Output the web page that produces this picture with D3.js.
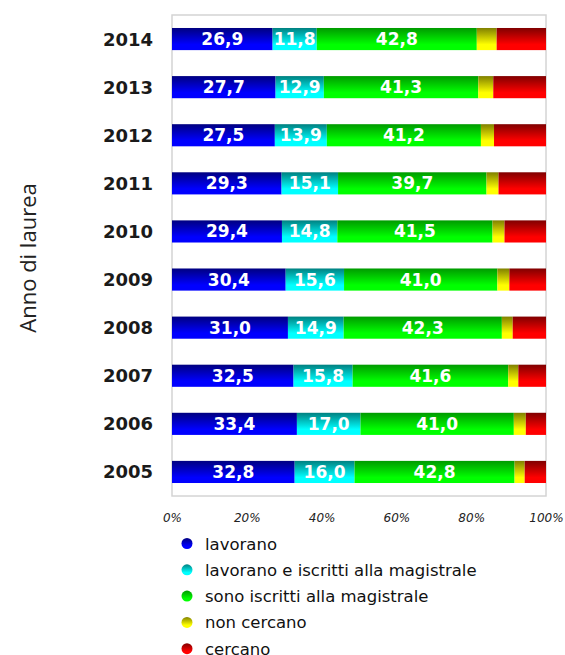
<!DOCTYPE html>
<html lang="it">
<head>
<meta charset="UTF-8">
<title>Anno di laurea</title>
<script src="https://cdn.jsdelivr.net/npm/d3@7"></script>
<style>
  body { margin: 0; background: #fff; }
  .yr { font-family: "DejaVu Sans", sans-serif; font-weight: bold; font-size: 18px; fill: #1a1a1a; }
  .val { font-family: "DejaVu Sans", sans-serif; font-weight: bold; font-size: 17px; fill: #fff; }
  .tick text { font-family: "DejaVu Sans", sans-serif; font-style: italic; font-size: 12px; fill: #222; }
  .leg { font-family: "DejaVu Sans", sans-serif; font-size: 16.5px; fill: #111; }
  .ytitle { font-family: "Open Sans", sans-serif; font-size: 22px; fill: #222; }
</style>
</head>
<body>
<svg id="chart" width="565" height="655"></svg>
<script>
// data
var years = ["2014","2013","2012","2011","2010","2009","2008","2007","2006","2005"];
var lavorano    = [26.9, 27.7, 27.5, 29.3, 29.4, 30.4, 31.0, 32.5, 33.4, 32.8];
var lavIscritti = [11.8, 12.9, 13.9, 15.1, 14.8, 15.6, 14.9, 15.8, 17.0, 16.0];
var iscritti    = [42.8, 41.3, 41.2, 39.7, 41.5, 41.0, 42.3, 41.6, 41.0, 42.8];
var nonCercano  = [5.3, 4.0, 3.5, 3.2, 3.2, 3.2, 2.9, 2.7, 3.2, 2.7];
var cercano     = [13.2, 14.1, 13.9, 12.7, 11.1, 9.8, 8.9, 7.4, 5.4, 5.7];
var seriesNames = ["lavorano", "lavorano e iscritti alla magistrale", "sono iscritti alla magistrale", "non cercano", "cercano"];
var tickLabels = ["0%","20%","40%","60%","80%","100%"];

var series = [lavorano, lavIscritti, iscritti, nonCercano, cercano];
var darkCol = ["#000080", "#008080", "#009a00", "#808000", "#800000"];
var brightCol = ["#0000ff", "#00ffff", "#00ff00", "#ffff00", "#ff0000"];

var svg = d3.select("#chart");
var plotL = 172, plotR = 546, plotT = 15, plotB = 496;

var x = d3.scaleLinear().domain([0, 100]).range([plotL, plotR]);
var y = d3.scaleBand().domain(years).range([plotT, plotB]).paddingInner(0.54).paddingOuter(0.27);

// gradients
var defs = svg.append("defs");
series.forEach(function (s, i) {
    var g = defs.append("linearGradient").attr("id", "g" + i)
        .attr("x1", 0).attr("y1", 0).attr("x2", 0).attr("y2", 1);
    g.append("stop").attr("offset", "0%").attr("stop-color", darkCol[i]);
    g.append("stop").attr("offset", "75%").attr("stop-color", brightCol[i]);
    g.append("stop").attr("offset", "100%").attr("stop-color", brightCol[i]);
});

// frame
svg.append("rect")
    .attr("x", plotL).attr("y", plotT)
    .attr("width", plotR - plotL).attr("height", plotB - plotT)
    .attr("fill", "none").attr("stroke", "#d4d4d4").attr("stroke-width", 1.5);

// stacked bars
var stackData = years.map(function (yr, j) {
    var o = { year: yr };
    series.forEach(function (s, i) { o["s" + i] = s[j]; });
    return o;
});
var stack = d3.stack().keys(series.map(function (s, i) { return "s" + i; }));
var layers = stack(stackData);

layers.forEach(function (layer, i) {
    svg.append("g").selectAll("rect").data(layer).enter().append("rect")
        .attr("x", function (d) { return x(d[0]); })
        .attr("y", function (d) { return y(d.data.year); })
        .attr("width", function (d) { return x(d[1]) - x(d[0]); })
        .attr("height", y.bandwidth())
        .attr("fill", "url(#g" + i + ")");

    if (i < 3) {
        svg.append("g").selectAll("text").data(layer).enter().append("text")
            .attr("class", "val")
            .attr("x", function (d) { return (x(d[0]) + x(d[1])) / 2; })
            .attr("y", function (d) { return y(d.data.year) + y.bandwidth() / 2 + 6; })
            .attr("text-anchor", "middle")
            .text(function (d) { return (d[1] - d[0]).toFixed(1).replace(".", ","); });
    }
});

// year labels
svg.append("g").selectAll("text").data(years).enter().append("text")
    .attr("class", "yr")
    .attr("x", 153)
    .attr("y", function (d) { return y(d) + y.bandwidth() / 2 + 6.5; })
    .attr("text-anchor", "end")
    .text(function (d) { return d; });

// x axis
var xAxis = d3.axisBottom(x).tickValues([0, 20, 40, 60, 80, 100])
    .tickSize(0).tickPadding(0)
    .tickFormat(function (d, i) { return tickLabels[i]; });
var ax = svg.append("g").attr("transform", "translate(0," + (plotB + 17) + ")").call(xAxis);
ax.select(".domain").remove();

// y title
svg.append("text").attr("class", "ytitle")
    .attr("transform", "translate(36,258) rotate(-90)")
    .attr("text-anchor", "middle")
    .text("Anno di laurea");

// legend
var leg = svg.append("g").selectAll("g").data(seriesNames).enter().append("g")
    .attr("transform", function (d, i) { return "translate(187," + (543.5 + i * 26.3) + ")"; });
leg.append("circle").attr("r", 5.5).attr("fill", function (d, i) { return "url(#g" + i + ")"; });
leg.append("text").attr("class", "leg").attr("x", 18).attr("y", 6).text(function (d) { return d; });
</script>
</body>
</html>
